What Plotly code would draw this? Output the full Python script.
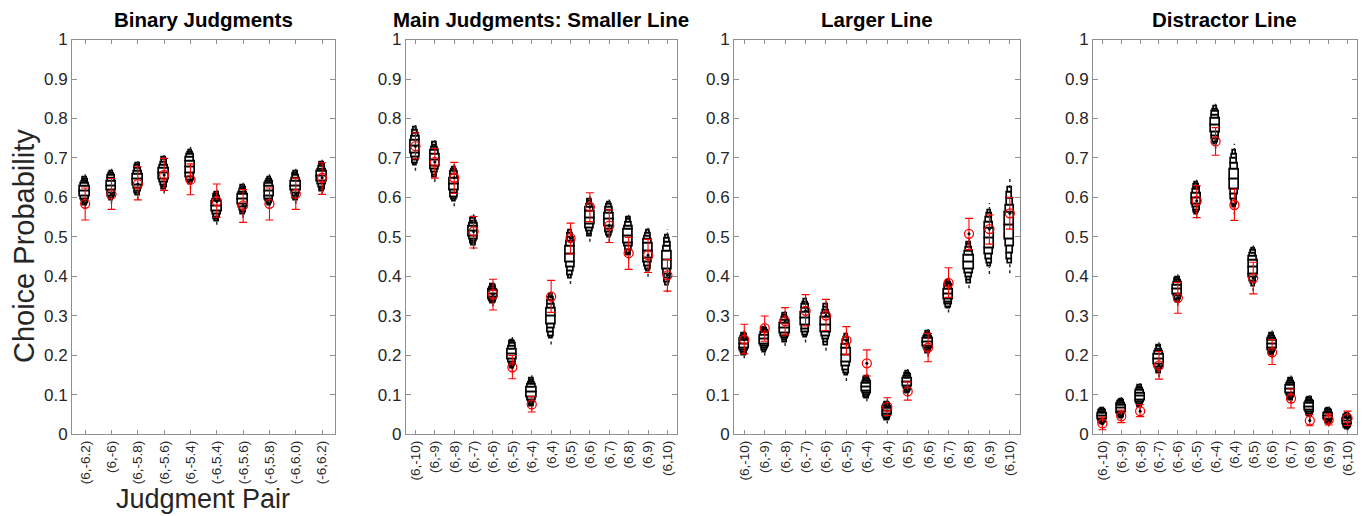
import plotly.graph_objects as go

# ---- data -------------------------------------------------------------
binary_labels = ["(6,-6.2)", "(6,-6)", "(6,-5.8)", "(6,-5.6)", "(6,-5.4)",
                 "(-6,5.4)", "(-6,5.6)", "(-6,5.8)", "(-6,6.0)", "(-6,6.2)"]
main_labels = ["(6,-10)", "(6,-9)", "(6,-8)", "(6,-7)", "(6,-6)", "(6,-5)", "(6,-4)",
               "(6,4)", "(6,5)", "(6,6)", "(6,7)", "(6,8)", "(6,9)", "(6,10)"]

# model predictions: median and half-range of the predictive distribution
binary_median = [0.615, 0.629, 0.645, 0.660, 0.676, 0.576, 0.594, 0.615, 0.629, 0.652]
binary_spread = [0.045, 0.045, 0.050, 0.050, 0.055, 0.045, 0.045, 0.045, 0.045, 0.045]
# observed proportions and error bar extents
binary_obs = [0.584, 0.608, 0.634, 0.657, 0.645, 0.590, 0.580, 0.584, 0.609, 0.650]
binary_err_lo = [0.041, 0.038, 0.040, 0.039, 0.038, 0.040, 0.043, 0.041, 0.039, 0.042]
binary_err_hi = [0.040, 0.040, 0.044, 0.042, 0.040, 0.044, 0.040, 0.040, 0.040, 0.038]

smaller_median = [0.728, 0.694, 0.633, 0.514, 0.355, 0.203, 0.106, 0.298, 0.456, 0.548, 0.543, 0.501, 0.464, 0.440]
smaller_spread = [0.060, 0.055, 0.055, 0.045, 0.030, 0.045, 0.045, 0.070, 0.075, 0.060, 0.055, 0.060, 0.065, 0.080]
smaller_obs = [0.730, 0.690, 0.650, 0.514, 0.355, 0.170, 0.076, 0.349, 0.497, 0.576, 0.529, 0.459, 0.454, 0.403]
smaller_err_lo = [0.032, 0.041, 0.040, 0.042, 0.040, 0.029, 0.019, 0.040, 0.040, 0.037, 0.043, 0.041, 0.044, 0.040]
smaller_err_hi = [0.034, 0.034, 0.039, 0.038, 0.038, 0.030, 0.020, 0.041, 0.038, 0.036, 0.040, 0.040, 0.040, 0.040]

larger_median = [0.228, 0.240, 0.269, 0.293, 0.277, 0.200, 0.119, 0.058, 0.131, 0.232, 0.354, 0.435, 0.496, 0.528]
larger_spread = [0.035, 0.040, 0.045, 0.060, 0.065, 0.065, 0.035, 0.030, 0.035, 0.035, 0.045, 0.065, 0.090, 0.120]
larger_obs = [0.240, 0.269, 0.287, 0.313, 0.301, 0.238, 0.180, 0.070, 0.109, 0.220, 0.384, 0.508, 0.520, 0.560]
larger_err_lo = [0.036, 0.033, 0.035, 0.038, 0.038, 0.036, 0.032, 0.022, 0.022, 0.036, 0.037, 0.040, 0.038, 0.040]
larger_err_hi = [0.039, 0.031, 0.034, 0.041, 0.041, 0.035, 0.034, 0.023, 0.024, 0.036, 0.038, 0.039, 0.036, 0.040]

distractor_median = [0.045, 0.065, 0.095, 0.190, 0.366, 0.597, 0.782, 0.646, 0.423, 0.228, 0.114, 0.069, 0.045, 0.033]
distractor_spread = [0.025, 0.030, 0.035, 0.045, 0.040, 0.050, 0.060, 0.090, 0.060, 0.035, 0.035, 0.030, 0.025, 0.025]
distractor_obs = [0.028, 0.046, 0.059, 0.175, 0.346, 0.592, 0.742, 0.581, 0.396, 0.208, 0.091, 0.035, 0.037, 0.041]
distractor_err_lo = [0.016, 0.016, 0.014, 0.035, 0.039, 0.043, 0.035, 0.039, 0.040, 0.031, 0.024, 0.013, 0.013, 0.018]
distractor_err_hi = [0.016, 0.016, 0.016, 0.035, 0.039, 0.038, 0.035, 0.040, 0.040, 0.032, 0.024, 0.015, 0.015, 0.018]

y_ticks = [0, 0.1, 0.2, 0.3, 0.4, 0.5, 0.6, 0.7, 0.8, 0.9, 1]
y_tick_text = ["0", "0.1", "0.2", "0.3", "0.4", "0.5", "0.6", "0.7", "0.8", "0.9", "1"]

panels = [
    dict(title="Binary Judgments", labels=binary_labels, median=binary_median,
         spread=binary_spread, obs=binary_obs, lo=binary_err_lo, hi=binary_err_hi,
         domain=[0.0526, 0.2449], box_w=0.36),
    dict(title="Main Judgments: Smaller Line", labels=main_labels, median=smaller_median,
         spread=smaller_spread, obs=smaller_obs, lo=smaller_err_lo, hi=smaller_err_hi,
         domain=[0.2964, 0.4946], box_w=0.47),
    dict(title="Larger Line", labels=main_labels, median=larger_median,
         spread=larger_spread, obs=larger_obs, lo=larger_err_lo, hi=larger_err_hi,
         domain=[0.5362, 0.7451], box_w=0.45),
    dict(title="Distractor Line", labels=main_labels, median=distractor_median,
         spread=distractor_spread, obs=distractor_obs, lo=distractor_err_lo, hi=distractor_err_hi,
         domain=[0.7984, 0.9912], box_w=0.48),
]

# letter-value boxes: cumulative half-heights (fraction of spread) and widths
LV_HEIGHT = [0.28, 0.44, 0.58, 0.70, 0.80]
LV_WIDTH = [1.00, 0.84, 0.68, 0.52, 0.38]

FONT = "Liberation Sans, Arial, Helvetica, sans-serif"
TXT = "#262626"
AXC = "#8f8f8f"

fig = go.Figure()
y_bottom, y_top = 0.1440, 0.9386

for i, p in enumerate(panels):
    sfx = "" if i == 0 else str(i + 1)
    xref, yref = "x" + sfx, "y" + sfx
    n = len(p["labels"])
    xs = list(range(1, n + 1))
    med, spr = p["median"], p["spread"]

    # dotted tails of the predictive distribution
    tx, ty = [], []
    for x, m, s in zip(xs, med, spr):
        top = LV_HEIGHT[-1] * s
        tx += [x, x, None, x, x, None]
        ty += [m + top, m + s, None, m - s, m - top, None]
    fig.add_trace(go.Scatter(x=tx, y=ty, mode="lines", xaxis=xref, yaxis=yref,
                             line=dict(color="#222222", width=1.4, dash="dot"),
                             hoverinfo="skip", showlegend=False))

    # letter-value boxes drawn as stacked bar segments
    for k, (hf, wf) in enumerate(zip(LV_HEIGHT, LV_WIDTH)):
        prev = 0.0 if k == 0 else LV_HEIGHT[k - 1]
        seg = [(hf - prev) * s for s in spr]
        up_base = [m + prev * s for m, s in zip(med, spr)]
        dn_base = [m - hf * s for m, s in zip(med, spr)]
        for base in (up_base, dn_base):
            fig.add_trace(go.Bar(x=xs, y=seg, base=base, width=p["box_w"] * wf,
                                 xaxis=xref, yaxis=yref,
                                 marker=dict(color="white", line=dict(color="black", width=1.7)),
                                 hoverinfo="skip", showlegend=False))

    # observed proportions with error bars
    fig.add_trace(go.Scatter(
        x=xs, y=p["obs"], mode="markers", xaxis=xref, yaxis=yref,
        marker=dict(symbol="circle-open", size=9, color="red", line=dict(width=1.3, color="red")),
        error_y=dict(type="data", symmetric=False, array=p["hi"], arrayminus=p["lo"],
                     color="red", thickness=1.1, width=4),
        showlegend=False))
    fig.add_trace(go.Scatter(
        x=xs, y=p["obs"], mode="markers", xaxis=xref, yaxis=yref,
        marker=dict(size=3, color="black"), hoverinfo="skip", showlegend=False))

    fig.layout["xaxis" + sfx] = dict(
        domain=p["domain"], anchor=yref, range=[0.5, n + 0.5],
        tickvals=xs, ticktext=p["labels"], tickangle=-90,
        tickfont=dict(family=FONT, size=13.5, color=TXT),
        showline=True, linecolor=AXC, linewidth=1, mirror="ticks",
        ticks="inside", ticklen=4, tickcolor=AXC,
        showgrid=False, zeroline=False, fixedrange=True)
    fig.layout["yaxis" + sfx] = dict(
        domain=[y_bottom, y_top], anchor=xref, range=[0, 1],
        tickvals=y_ticks, ticktext=y_tick_text,
        tickfont=dict(family=FONT, size=17, color=TXT),
        showline=True, linecolor=AXC, linewidth=1, mirror="ticks",
        ticks="inside", ticklen=5, tickcolor=AXC,
        showgrid=False, zeroline=False, fixedrange=True)

    fig.add_annotation(text="<b>%s</b>" % p["title"], xref="paper", yref="paper",
                       x=sum(p["domain"]) / 2, y=0.979, xanchor="center", yanchor="middle",
                       showarrow=False, borderpad=0,
                       font=dict(family=FONT, size=20.5, color="black"))

fig.add_annotation(text="Choice Probability", xref="paper", yref="paper",
                   x=0.0175, y=0.523, textangle=-90, xanchor="center", yanchor="middle",
                   showarrow=False, font=dict(family=FONT, size=29, color=TXT))
fig.add_annotation(text="Judgment Pair", xref="paper", yref="paper",
                   x=0.148, y=0.0136, xanchor="center", yanchor="middle",
                   showarrow=False, font=dict(family=FONT, size=27, color=TXT))

fig.update_layout(width=1369, height=516, margin=dict(l=0, r=0, t=0, b=0),
                  paper_bgcolor="white", plot_bgcolor="white",
                  barmode="overlay", bargap=0, showlegend=False)

fig.write_html("out.html")
